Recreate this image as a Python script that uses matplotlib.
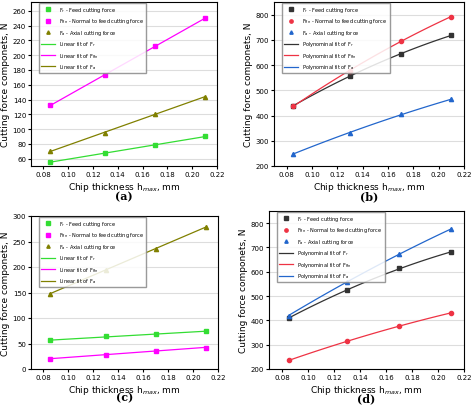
import numpy as np
import matplotlib.pyplot as plt

h = [0.085, 0.13, 0.17, 0.21]

a_fr = [55, 68, 78, 90]
a_fn = [132, 173, 212, 250]
a_fa = [70, 95, 120, 144]

b_fr = [438, 557, 644, 718]
b_fn = [436, 578, 695, 792]
b_fa = [248, 331, 405, 464]

c_fr = [56, 64, 68, 74]
c_fn = [20, 28, 36, 42]
c_fa = [148, 194, 235, 279]

d_fr = [410, 523, 614, 681]
d_fn = [235, 314, 376, 431]
d_fa = [420, 558, 672, 776]

lin_cols = ['#33dd33', '#ff00ff', '#808000']
pol_cols = ['#333333', '#ee3344', '#2266cc']
lin_mk = ['s', 's', '^']
pol_mk = ['s', 'o', '^']
names = ['F$_r$ - Feed cutting force', 'F$_{Rn}$ - Normal to feed cutting force',
         'F$_a$ - Axial cutting force']
subs = ['r', 'Rn', 'a']


def panel(ax, series, cols, mks, deg, fitname, ylim, yticks, tag):
    xs = np.linspace(h[0], h[-1], 100)
    for i, ys in enumerate(series):
        ax.plot(h, ys, mks[i], color=cols[i], ms=3, label=names[i], zorder=3)
    for i, ys in enumerate(series):
        p = np.polyfit(h, ys, deg)
        ax.plot(xs, np.polyval(p, xs), color=cols[i], lw=0.9,
                label=fitname + ' fit of F$_{%s}$' % subs[i])
    ax.set_xlim(0.07, 0.22)
    ax.set_xticks(np.arange(0.08, 0.221, 0.02))
    ax.set_xticklabels(['%.2f' % t for t in np.arange(0.08, 0.221, 0.02)])
    ax.set_ylim(*ylim)
    ax.set_yticks(yticks)
    ax.grid(axis='y', color='#dddddd', lw=0.8)
    ax.set_axisbelow(True)
    ax.tick_params(labelsize=5, length=2, pad=1.5)
    ax.set_xlabel('Chip thickness h$_{max}$, mm', fontsize=6.5, labelpad=2)
    ax.set_ylabel('Cutting force componets, N', fontsize=6.5, labelpad=2)
    ax.legend(loc='upper left', bbox_to_anchor=(0.03, 1.01), fontsize=3.6,
              frameon=True, fancybox=False, edgecolor='#888888', framealpha=0.85,
              handlelength=2.8, borderpad=0.4, labelspacing=0.5, markerscale=0.8)
    ax.text(0.5, -0.18, tag, transform=ax.transAxes, ha='center', va='center',
            fontsize=8, fontweight='bold', family='DejaVu Serif')


fig = plt.figure(figsize=(4.74, 4.14), dpi=100)
W, H = 474, 414
def add(x0, x1, y0, y1):
    return fig.add_axes([x0 / W, 1 - y1 / H, (x1 - x0) / W, (y1 - y0) / H])

ax = add(31, 217, 3, 167)
panel(ax, [a_fr, a_fn, a_fa], lin_cols, lin_mk, 1, 'Linear',
      (50, 272), range(60, 261, 20), '(a)')
ax = add(274, 464, 3, 167)
panel(ax, [b_fr, b_fn, b_fa], pol_cols, pol_mk, 2, 'Polynominal',
      (200, 850), range(200, 801, 100), '(b)')
ax = add(31, 218, 217, 370)
panel(ax, [c_fr, c_fn, c_fa], lin_cols, lin_mk, 1, 'Linear',
      (0, 300), range(0, 301, 50), '(c)')
ax = add(269, 464, 212, 370)
panel(ax, [d_fr, d_fn, d_fa], pol_cols, pol_mk, 2, 'Polynominal',
      (200, 850), range(200, 801, 100), '(d)')

fig.savefig('out.png', dpi=100)
